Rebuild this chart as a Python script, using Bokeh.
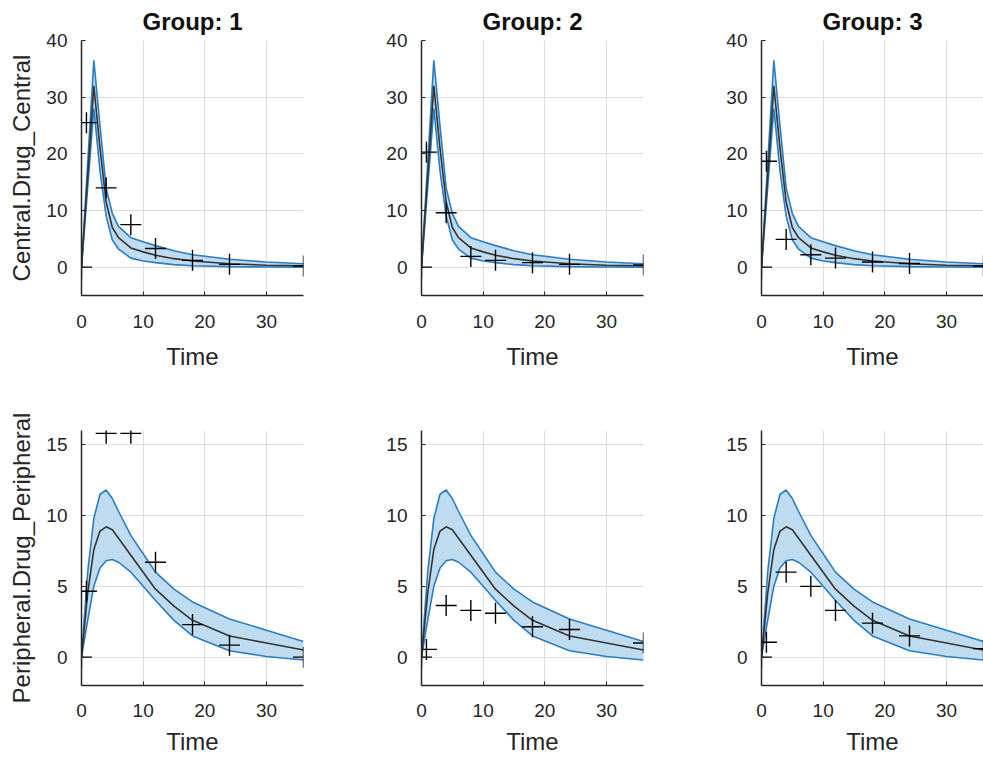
from bokeh.plotting import figure
from bokeh.layouts import row, column
from bokeh.models import Range1d, FixedTicker
from bokeh.embed import file_html
from bokeh.resources import INLINE

group_names = ["Group: 1", "Group: 2", "Group: 3"]
x_ticks = [0, 10, 20, 30]
central_ticks = [0, 10, 20, 30, 40]
periph_ticks = [0, 5, 10, 15]

# model prediction (shared across groups)
t_pred = [0, 1, 2, 3, 4, 5, 6, 8, 10, 12, 15, 18, 24, 30, 36]
central_median = [0, 16, 32, 21, 11.5, 7.0, 5.2, 3.4, 2.7, 2.1, 1.5, 1.1, 0.6, 0.35, 0.25]
central_upper = [0, 18.3, 36.5, 25, 14, 9.5, 7.2, 5.2, 4.5, 3.8, 2.9, 2.2, 1.4, 0.9, 0.6]
central_lower = [0, 14, 28, 17, 9, 4.8, 3.2, 1.6, 1.1, 0.8, 0.45, 0.25, 0.1, 0.02, 0.0]
periph_median = [0, 4.5, 7.6, 8.9, 9.2, 9.0, 8.4, 7.2, 6.0, 4.8, 3.6, 2.6, 1.5, 1.0, 0.5]
periph_upper = [0, 6.0, 9.8, 11.5, 11.8, 11.2, 10.3, 8.6, 7.3, 6.0, 4.8, 3.9, 2.7, 1.9, 1.1]
periph_lower = [0, 2.6, 5.0, 6.3, 6.8, 6.9, 6.7, 6.0, 5.0, 4.0, 2.6, 1.5, 0.45, 0.05, -0.2]

# observations
obs_time = [0, 0.8, 4, 8, 12, 18, 24, 36]
central_obs_g1 = [0, 25.5, 14, 7.5, 3.3, 1.2, 0.5, 0.2]
central_obs_g2 = [0, 20.3, 9.6, 1.9, 1.2, 0.8, 0.5, 0.4]
central_obs_g3 = [0, 18.7, 4.9, 2.2, 1.6, 0.9, 0.65, 0.2]
periph_obs_g1 = [0, 4.65, 15.8, 15.8, 6.7, 2.3, 0.85, 0.0]
periph_obs_g2 = [0, 0.55, 3.65, 3.3, 3.1, 2.15, 1.95, 1.0]
periph_obs_g3 = [0, 1.05, 6.0, 5.0, 3.3, 2.4, 1.5, 0.6]

central_obs = [central_obs_g1, central_obs_g2, central_obs_g3]
periph_obs = [periph_obs_g1, periph_obs_g2, periph_obs_g3]

FONT = "Liberation Sans"
TXT = "#262626"
BAND_FILL = "#bfdbef"
BAND_EDGE = "#2a7dc2"
MED = "#333333"


def panel(col, row_i):
    left = 81 if col == 0 else 108
    right = 0 if col == 2 else 10
    top = 40 if row_i == 0 else 55
    bottom = 80 if row_i == 0 else 74
    if row_i == 0:
        yr = Range1d(-5, 40)
        med, lo, hi, obs, yt = central_median, central_lower, central_upper, central_obs[col], central_ticks
        ylab = "Central.Drug_Central"
    else:
        yr = Range1d(-2, 16)
        med, lo, hi, obs, yt = periph_median, periph_lower, periph_upper, periph_obs[col], periph_ticks
        ylab = "Peripheral.Drug_Peripheral"
    p = figure(width=left + 222 + right, height=top + 255 + bottom,
               x_range=Range1d(0, 36), y_range=yr,
               output_backend="svg", toolbar_location=None,
               min_border=0, min_border_left=left, min_border_right=right,
               min_border_top=top, min_border_bottom=bottom,
               title=group_names[col] if row_i == 0 else None)
    p.outline_line_color = None
    p.background_fill_color = "white"
    p.border_fill_color = "white"
    if row_i == 0:
        p.title.align = "center"
        p.title.text_font = FONT
        p.title.text_font_size = "24px"
        p.title.text_font_style = "bold"
        p.title.text_color = "#111111"
        p.title.standoff = 11
    p.varea(x=t_pred, y1=lo, y2=hi, fill_color=BAND_FILL, fill_alpha=1.0)
    p.line(t_pred, hi, line_color=BAND_EDGE, line_width=1.6)
    p.line(t_pred, lo, line_color=BAND_EDGE, line_width=1.6)
    p.line(t_pred, med, line_color=MED, line_width=1.6)
    p.scatter(obs_time, obs, marker="cross", size=21, line_color="black", line_width=1.4)

    for ax in (p.xaxis[0], p.yaxis[0]):
        ax.axis_line_color = TXT
        ax.axis_line_width = 1.5
        ax.major_tick_line_color = TXT
        ax.major_tick_in = 4
        ax.major_tick_out = 0
        ax.minor_tick_line_color = None
        ax.major_label_text_font = FONT
        ax.major_label_text_font_size = "19px"
        ax.major_label_text_color = TXT
        ax.axis_label_text_font = FONT
        ax.axis_label_text_font_size = "24px"
        ax.axis_label_text_font_style = "normal"
        ax.axis_label_text_color = TXT
    p.xaxis.ticker = FixedTicker(ticks=x_ticks)
    p.yaxis.ticker = FixedTicker(ticks=yt)
    p.xaxis.axis_label = "Time"
    if row_i == 0:
        p.xaxis.major_label_standoff = 19
        p.xaxis.axis_label_standoff = 12
    else:
        p.xaxis.major_label_standoff = 18
        p.xaxis.axis_label_standoff = 8
    p.yaxis.major_label_standoff = 14
    if col == 0:
        p.yaxis.axis_label = ylab
        p.yaxis.axis_label_standoff = 8
    p.grid.grid_line_color = "#dcdcdc"
    p.grid.grid_line_width = 1
    p.xgrid.ticker = FixedTicker(ticks=x_ticks)
    p.ygrid.ticker = FixedTicker(ticks=yt)
    return p


rows = []
for r in range(2):
    rows.append(row(*[panel(c, r) for c in range(3)], spacing=0))
layout = column(*rows, spacing=0)

open("out.html", "w").write(file_html(layout, INLINE))
